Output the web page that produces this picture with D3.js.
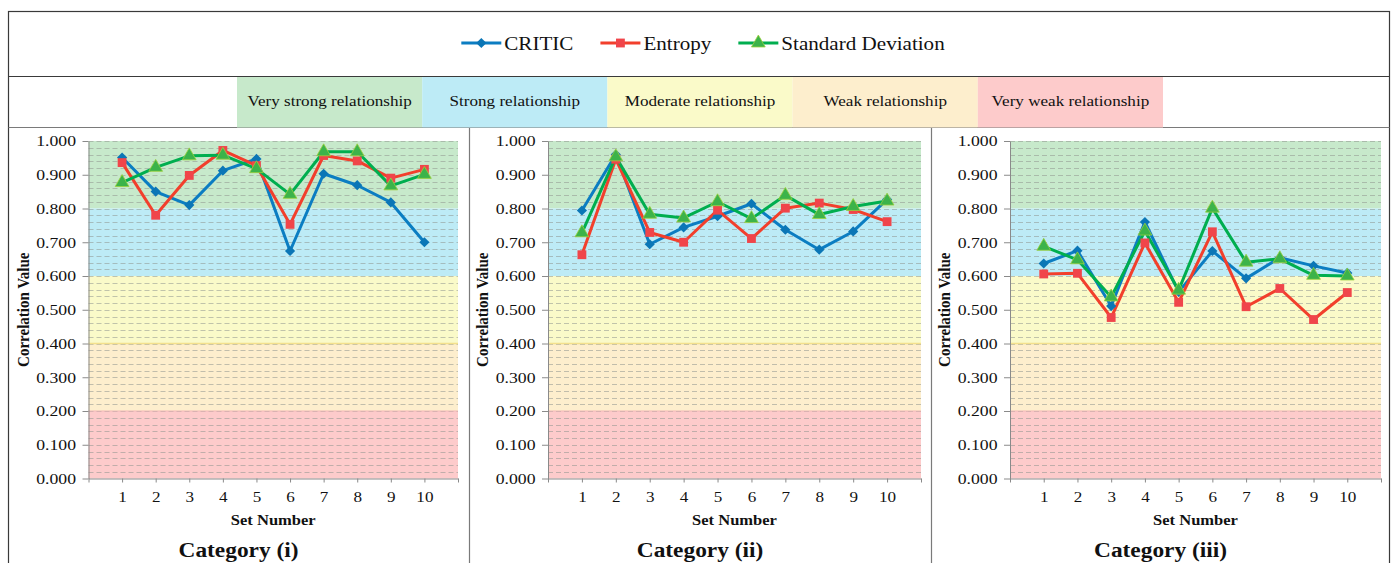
<!DOCTYPE html>
<html>
<head>
<meta charset="utf-8">
<script src="https://cdn.jsdelivr.net/npm/d3@7"></script>
<style>
  html, body { margin: 0; padding: 0; background: #ffffff; }
  svg { display: block; }
  text { font-family: "Liberation Serif", "Times New Roman", serif; fill: #111; }
</style>
</head>
<body>
<svg id="chart" width="1394" height="563"></svg>
<script>
// ---- data ----
const categories = ["Category (i)", "Category (ii)", "Category (iii)"];
const setNumbers = [1, 2, 3, 4, 5, 6, 7, 8, 9, 10];
const seriesNames = ["CRITIC", "Entropy", "Standard Deviation"];

const criticI   = [0.951, 0.850, 0.810, 0.912, 0.947, 0.674, 0.903, 0.869, 0.818, 0.700];
const entropyI  = [0.936, 0.780, 0.898, 0.972, 0.927, 0.753, 0.957, 0.941, 0.890, 0.916];
const stdDevI   = [0.877, 0.922, 0.956, 0.958, 0.918, 0.842, 0.968, 0.968, 0.867, 0.901];

const criticII  = [0.794, 0.960, 0.694, 0.744, 0.777, 0.814, 0.737, 0.678, 0.732, 0.827];
const entropyII = [0.663, 0.946, 0.729, 0.700, 0.795, 0.711, 0.801, 0.816, 0.797, 0.761];
const stdDevII  = [0.728, 0.953, 0.783, 0.772, 0.820, 0.770, 0.839, 0.782, 0.806, 0.822];

const criticIII  = [0.637, 0.675, 0.511, 0.760, 0.553, 0.674, 0.593, 0.654, 0.630, 0.609];
const entropyIII = [0.606, 0.608, 0.477, 0.698, 0.522, 0.731, 0.509, 0.563, 0.471, 0.551];
const stdDevIII  = [0.688, 0.648, 0.538, 0.733, 0.558, 0.801, 0.641, 0.651, 0.602, 0.600];

const yTicks = [0, 0.1, 0.2, 0.3, 0.4, 0.5, 0.6, 0.7, 0.8, 0.9, 1.0];
const bandLabels = ["Very strong relationship", "Strong relationship", "Moderate relationship",
                    "Weak relationship", "Very weak relationship"];
const bandLower = [0.8, 0.6, 0.4, 0.2, 0.0];
const bandUpper = [1.0, 0.8, 0.6, 0.4, 0.2];

const panelSeries = [
  [criticI, entropyI, stdDevI],
  [criticII, entropyII, stdDevII],
  [criticIII, entropyIII, stdDevIII]
];

// ---- styling ----
const SX = 1.14;   // horizontal stretch for all labels
const bandColors = ["#c7e9cb", "#bdebf6", "#fafac9", "#fdeecd", "#fdcbcb"];
const lineColors = ["#0b7dc2", "#f23f2c", "#00ae4f"];
const markColors = ["#0b76b6", "#f0454a", "#3cb34a"];

const svg = d3.select("#chart");

function label(parent, x, y, s, opts = {}) {
  const t = parent.append("text")
    .attr("transform", `translate(${x},${y})` + (opts.rotate ? ` rotate(${opts.rotate}) scale(1,${SX})` : ` scale(${SX},1)`))
    .attr("text-anchor", opts.anchor || "start")
    .style("font-size", (opts.size || 14) + "px")
    .style("font-weight", opts.bold ? "bold" : "normal")
    .text(s);
  return t;
}

function marker(sel, k) {
  if (k === 0) {
    sel.attr("d", d3.symbol(d3.symbolSquare, 52)()).attr("fill", markColors[0]);
  } else if (k === 1) {
    sel.attr("d", d3.symbol(d3.symbolSquare, 78)()).attr("fill", markColors[1]);
  } else {
    sel.attr("d", d3.symbol(d3.symbolTriangle, 82)()).attr("fill", markColors[2])
       .attr("stroke", "#9ccf3c").attr("stroke-width", 0.8);
  }
  return sel;
}

// ---- frame ----
const frame = svg.append("g");
frame.append("rect").attr("x", 8.5).attr("y", 11.5).attr("width", 1381).attr("height", 600)
  .attr("fill", "none").attr("stroke", "#3a3a3a").attr("stroke-width", 1.2);
frame.append("line").attr("x1", 8.5).attr("x2", 1389.5).attr("y1", 76.5).attr("y2", 76.5)
  .attr("stroke", "#3a3a3a").attr("stroke-width", 1.2);

// ---- band legend ----
const bandW = 185.2;
bandLabels.forEach((b, i) => {
  const bx = 237 + i * bandW;
  svg.append("rect").attr("x", bx).attr("y", 77).attr("width", bandW).attr("height", 50.5)
    .attr("fill", bandColors[i]);
  label(svg, bx + bandW / 2, 106, b, { anchor: "middle", size: 15 });
});
frame.append("line").attr("x1", 8.5).attr("x2", 1389.5).attr("y1", 127.5).attr("y2", 127.5)
  .attr("stroke", "#7a7a7a").attr("stroke-width", 1.2);
[469.5, 931.5].forEach(x => {
  frame.append("line").attr("x1", x).attr("x2", x).attr("y1", 127.5).attr("y2", 563)
    .attr("stroke", "#7a7a7a").attr("stroke-width", 1.2);
});

// ---- series legend ----
const legend = svg.append("g");
let lx = 0;
seriesNames.forEach((name, k) => {
  const g = legend.append("g").attr("transform", `translate(${lx},0)`);
  g.append("line").attr("x1", 0).attr("x2", 40).attr("y1", 43).attr("y2", 43)
    .attr("stroke", lineColors[k]).attr("stroke-width", 3.2);
  marker(g.append("path").attr("transform", `translate(20,43)` + (k === 0 ? " rotate(45)" : "")), k);
  const t = label(g, 43, 50, name, { size: 18.5 });
  const w = t.node().getComputedTextLength() * SX;
  lx += 43 + w + 27;
});
const legendW = lx - 27;
legend.attr("transform", `translate(${703 - legendW / 2},0)`);

// ---- panels ----
const panelLayout = [
  { x0: 88.5, x1: 458, cx: 238.5 },
  { x0: 548, x1: 921, cx: 700 },
  { x0: 1010, x1: 1381, cx: 1160.5 }
];
const yTop = 141, yBottom = 478.5;
const y = d3.scaleLinear().domain([0, 1]).range([yBottom, yTop]);
const gridValues = d3.range(1, 51).map(i => i / 50);

panelSeries.forEach((series, p) => {
  const L = panelLayout[p];
  const x = d3.scaleLinear().domain([0, 11]).range([L.x0, L.x1]);
  const g = svg.append("g");

  // relationship bands
  bandLabels.forEach((b, i) => {
    g.append("rect").attr("x", L.x0).attr("width", L.x1 - L.x0)
      .attr("y", y(bandUpper[i])).attr("height", y(bandLower[i]) - y(bandUpper[i]))
      .attr("fill", bandColors[i]);
  });

  // dashed grid
  g.append("g").selectAll("line").data(gridValues).join("line")
    .attr("x1", L.x0).attr("x2", L.x1)
    .attr("y1", d => Math.round(y(d)) + 0.5).attr("y2", d => Math.round(y(d)) + 0.5)
    .attr("stroke", "#8f958f").attr("stroke-opacity", 0.55)
    .attr("stroke-dasharray", "5,3").attr("stroke-width", 1);

  // band boundary accents
  g.append("line").attr("x1", L.x0).attr("x2", L.x1).attr("y1", y(0.4)).attr("y2", y(0.4))
    .attr("stroke", "#f3e08c").attr("stroke-width", 1.5);
  g.append("line").attr("x1", L.x0).attr("x2", L.x1).attr("y1", y(0.2)).attr("y2", y(0.2))
    .attr("stroke", "#f4b8b8").attr("stroke-width", 1.2);

  // y axis
  const ya = g.append("g").attr("transform", `translate(${L.x0},0)`)
    .call(d3.axisLeft(y).tickValues(yTicks).tickFormat(d3.format(".3f")).tickSize(6).tickSizeOuter(0));
  ya.select(".domain").attr("stroke", "#8a8a8a");
  ya.selectAll(".tick line").attr("stroke", "#8a8a8a");
  ya.selectAll(".tick text")
    .attr("x", -12.5 / SX).attr("transform", `scale(${SX},1)`)
    .style("font-family", "Liberation Serif, serif").style("font-size", "15.5px").attr("fill", "#111");

  // x axis
  const xa = g.append("g").attr("transform", `translate(0,${yBottom})`)
    .call(d3.axisBottom(x).tickValues(d3.range(0, 12))
      .tickFormat(d => (setNumbers.includes(d) ? d : "")).tickSize(4).tickSizeOuter(0));
  xa.select(".domain").attr("stroke", "#8a8a8a");
  xa.selectAll(".tick line").attr("stroke", "#8a8a8a");
  xa.selectAll(".tick text")
    .attr("y", 12.5).attr("transform", `scale(${SX},1)`)
    .style("font-family", "Liberation Serif, serif").style("font-size", "15px").attr("fill", "#111");

  // axis titles
  label(g, (L.x0 + L.x1) / 2, 525, "Set Number", { anchor: "middle", size: 14.5, bold: true });
  label(g, L.x0 - 60, (yTop + yBottom) / 2, "Correlation Value",
        { anchor: "middle", size: 15, bold: true, rotate: -90 });
  label(g, L.cx, 557, categories[p], { anchor: "middle", size: 20.5, bold: true });

  // series lines and markers
  const line = d3.line().x((d, i) => x(setNumbers[i])).y(d => y(d));
  series.forEach((vals, k) => {
    g.append("path").datum(vals).attr("d", line)
      .attr("fill", "none").attr("stroke", lineColors[k]).attr("stroke-width", 3)
      .attr("stroke-linejoin", "round");
  });
  series.forEach((vals, k) => {
    g.append("g").selectAll("path").data(vals).join("path")
      .attr("transform", (d, i) => `translate(${x(setNumbers[i])},${y(d)})` + (k === 0 ? " rotate(45)" : ""))
      .call(sel => marker(sel, k));
  });
});
</script>
</body>
</html>
